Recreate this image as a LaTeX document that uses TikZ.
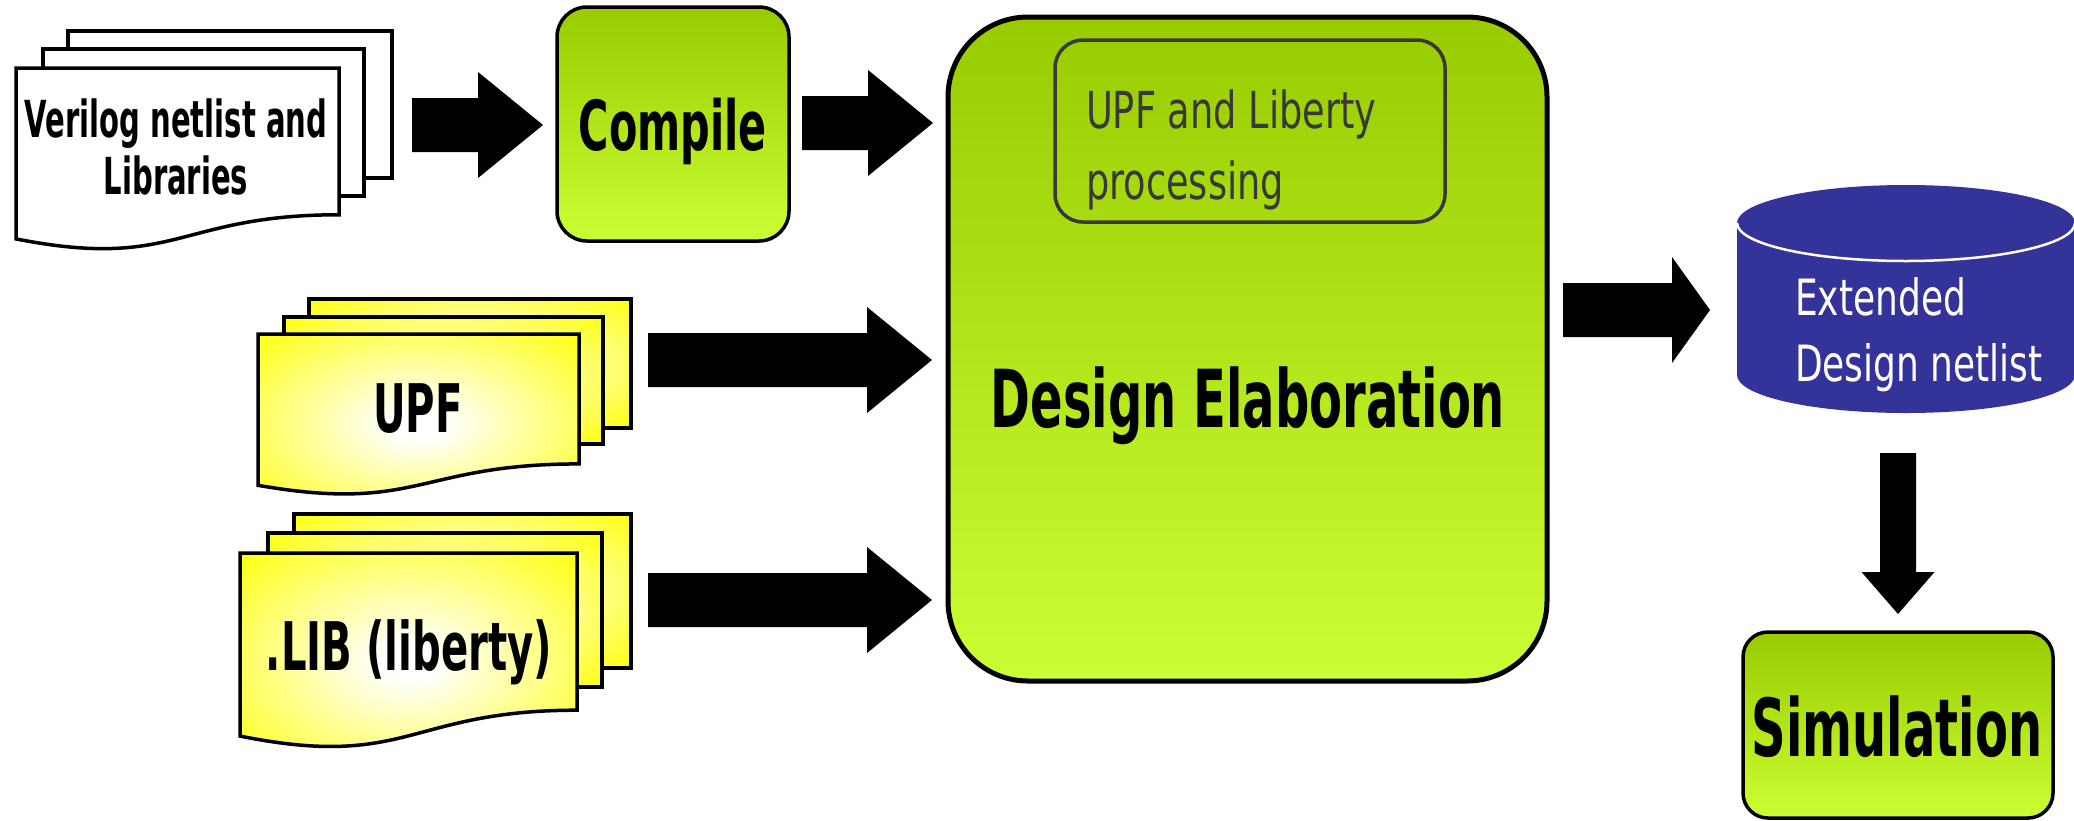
\documentclass[tikz,border=0pt]{standalone}
\usepackage{fontspec}
\usetikzlibrary{calc}
\newfontfamily\condB[FakeStretch=0.6]{DejaVu Sans}
\newfontfamily\condV[FakeStretch=0.57]{DejaVu Sans}
\newfontfamily\condR[FakeStretch=0.72]{DejaVu Sans}
\newcommand\bfsz[2]{\condB\bfseries\fontsize{#1}{#2}\selectfont}
\newcommand\vfsz[2]{\condV\bfseries\fontsize{#1}{#2}\selectfont}
\newcommand\rgsz[2]{\condR\fontsize{#1}{#2}\selectfont}
\definecolor{gtop}{HTML}{99CC00}
\definecolor{gbot}{HTML}{CCFF33}
\definecolor{docy}{HTML}{FFFF1A}
\definecolor{cylb}{HTML}{333399}
\definecolor{dgray}{HTML}{383838}
\pgfdeclareradialshading{docshade}{\pgfpoint{0bp}{0bp}}{color(0bp)=(white); color(4bp)=(white); color(34bp)=(docy); color(50bp)=(docy)}
\newcommand\mydoc[5]{\path[#5] (#1,#2) -- ({#1+#3},#2) -- ({#1+#3},{#2+0.802*#4}) .. controls ({#1+0.5*#3},{#2+0.802*#4}) and ({#1+0.5*#3},{#2+1.107*#4}) .. (#1,{#2+0.934*#4}) -- cycle;}
\tikzset{
  sheet/.style={draw=black, line width=3.5pt, line join=miter},
  ysheet/.style={sheet, shade, shading=docshade},
  wsheet/.style={sheet, fill=white},
  gbox/.style={draw=black, top color=gtop, bottom color=gbot},
  txt/.style={inner sep=0pt, outer sep=0pt},
  harrow/.style n args={3}{fill=black, to path={($(\tikztostart)+(0,#1)$) -- ($(\tikztotarget)+(-#3,#1)$) -- ($(\tikztotarget)+(-#3,#2)$) -- (\tikztotarget) -- ($(\tikztotarget)+(-#3,-#2)$) -- ($(\tikztotarget)+(-#3,-#1)$) -- ($(\tikztostart)+(0,-#1)$) -- cycle}},
  varrow/.style n args={3}{fill=black, to path={($(\tikztostart)+(-#1,0)$) -- ($(\tikztotarget)+(-#1,-#3)$) -- ($(\tikztotarget)+(-#2,-#3)$) -- (\tikztotarget) -- ($(\tikztotarget)+(#2,-#3)$) -- ($(\tikztotarget)+(#1,-#3)$) -- ($(\tikztostart)+(#1,0)$) -- cycle}},
}
\begin{document}
\begin{tikzpicture}[x=1pt,y=-1pt]
\useasboundingbox (0,0) rectangle (2074,820);
% Verilog stack
\path[wsheet] (68,31) rectangle (392,178);
\path[wsheet] (43,49) rectangle (364,196);
\mydoc{16}{68}{323}{183}{wsheet}
\node[txt, align=center, anchor=base, font=\vfsz{51}{57}] (verilog) at (176,194) {Verilog netlist and\\Libraries};
% Compile
\path[gbox, line width=3.5pt, rounded corners=30pt] (557,7) rectangle (789,241);
\node[txt, anchor=base, font=\bfsz{69}{80}] (compile) at (673,150) {Compile};
% Design elaboration
\path[gbox, line width=5pt, rounded corners=80pt] (948,17) rectangle (1547,681);
\draw[dgray, line width=3.5pt, rounded corners=28pt] (1055,40) rectangle (1445,222);
\node[txt, align=left, anchor=base west, text=dgray, font=\rgsz{51}{71}] (inner) at (1086,199) {UPF and Liberty\\processing};
\node[txt, anchor=base, font=\bfsz{80}{96}] (design) at (1248,427) {Design Elaboration};
% UPF stack
\path[ysheet] (309,299) rectangle (631,428);
\path[ysheet] (284,317) rectangle (603,444);
\mydoc{258}{334}{321}{162}{ysheet}
\node[txt, anchor=base, font=\bfsz{67}{80}] (upf) at (418,432) {UPF};
% LIB stack
\path[ysheet] (294,514) rectangle (631,668);
\path[ysheet] (268,533) rectangle (602,687);
\mydoc{240}{553}{337}{196}{ysheet}
\node[txt, anchor=base, font=\bfsz{67}{80}] (lib) at (409,670) {.LIB (liberty)};
% Cylinder
\fill[cylb] (1906,375) ellipse [x radius=169pt, y radius=38pt];
\fill[cylb] (1737,223) rectangle (2075,375);
\fill[cylb] (1906,223) ellipse [x radius=169pt, y radius=38pt];
\draw[white, line width=2.5pt] (1737,223) arc [start angle=180, end angle=360, x radius=169pt, y radius=38pt];
\node[txt, align=left, anchor=base west, text=white, font=\rgsz{50}{66}] (ext) at (1795,381) {Extended\\Design netlist};
% Simulation
\path[gbox, line width=3.5pt, rounded corners=25pt] (1743,632) rectangle (2053,818);
\node[txt, anchor=base, font=\bfsz{80}{96}] (sim) at (1897,756) {Simulation};
% Arrows
\coordinate (a1s) at (412,125); \coordinate (a1e) at (543,125);
\coordinate (a2s) at (802,123); \coordinate (a2e) at (933,123);
\coordinate (a3s) at (648,360); \coordinate (a3e) at (932,360);
\coordinate (a4s) at (648,600); \coordinate (a4e) at (932,600);
\coordinate (a5s) at (1563,310); \coordinate (a5e) at (1710,310);
\coordinate (a6s) at (1898,453); \coordinate (a6e) at (1898,614);
\fill[harrow={27}{53}{65}] (a1s) to (a1e);
\fill[harrow={27}{53}{65}] (a2s) to (a2e);
\fill[harrow={27}{53}{65}] (a3s) to (a3e);
\fill[harrow={27}{53}{65}] (a4s) to (a4e);
\fill[harrow={27}{53}{38}] (a5s) to (a5e);
\fill[varrow={18}{36.5}{42}] (a6s) to (a6e);
\end{tikzpicture}
\end{document}
